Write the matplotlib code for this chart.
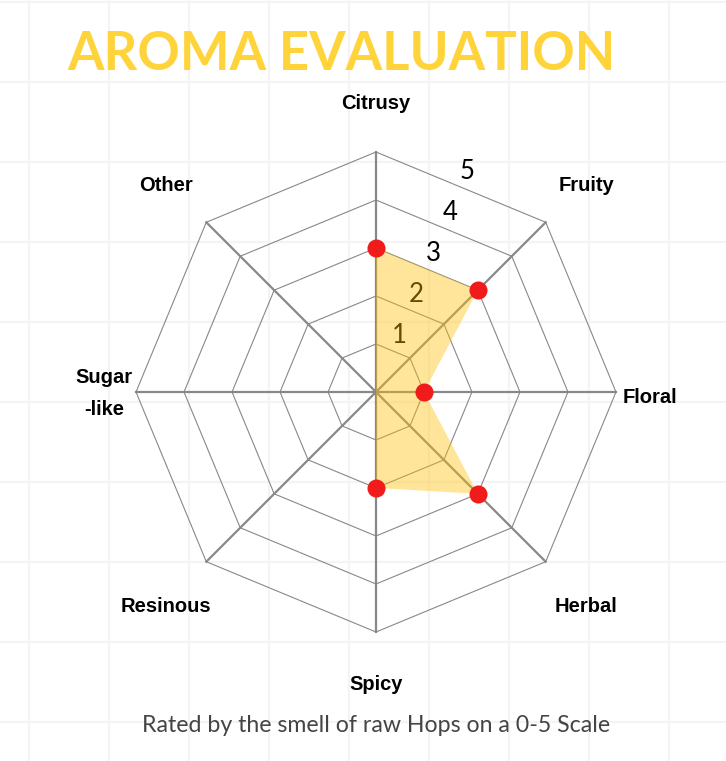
import numpy as np
import matplotlib.pyplot as plt

# Aroma ratings, clockwise from the top
categories = ['Citrusy', 'Fruity', 'Floral', 'Herbal', 'Spicy', 'Resinous', 'Sugar\n-like', 'Other']
values = [3, 3, 1, 3, 2, 0, 0, 0]
scale_ticks = [1, 2, 3, 4, 5]
max_val = 5

title_yellow = '#FFD43B'
fill_orange = '#FFC000'
dot_red = '#F01B1B'
line_gray = '#888888'

W, H = 726, 761
fig = plt.figure(figsize=(W / 100, H / 100), dpi=100)

# faint paper grid behind everything
bg = fig.add_axes([0, 0, 1, 1])
bg.set_xlim(0, W)
bg.set_ylim(H, 0)
bg.set_xticks(np.arange(29, W, 80))
bg.set_yticks(np.arange(2, H, 80))
bg.grid(True, color='#F4F4F4', lw=1.6)
bg.tick_params(length=0, labelbottom=False, labelleft=False)
for s in bg.spines.values():
    s.set_visible(False)

# radar axes: one data unit = 48 px, centre of the web at pixel (376, 392)
unit = 48.0
cx, cy = 376, 392
ax = fig.add_axes([0, 0, 1, 1])
ax.set_xlim(-cx / unit, (W - cx) / unit)
ax.set_ylim(-(H - cy) / unit, cy / unit)
ax.patch.set_alpha(0)
ax.axis('off')

n = len(categories)
angles = np.pi / 2 - np.arange(n) * 2 * np.pi / n
closed = np.append(angles, angles[0])

# rings
for r in scale_ticks:
    ax.plot(r * np.cos(closed), r * np.sin(closed), color=line_gray, lw=0.8, zorder=1)
# spokes
for a in angles:
    ax.plot([0, max_val * np.cos(a)], [0, max_val * np.sin(a)], color=line_gray, lw=1.6, zorder=1)

# scale numbers sit just outside the edge between Citrusy and Fruity
tick_ang = np.pi / 2 - np.pi / n
for t in scale_ticks:
    rr = t * np.cos(np.pi / n) + 0.36
    ax.text(rr * np.cos(tick_ang), rr * np.sin(tick_ang), str(t), fontsize=18.5,
            family='Lato', ha='center', va='center', color='black', zorder=2)

# data polygon and points
vals = np.array(values, dtype=float)
px = vals * np.cos(angles)
py = vals * np.sin(angles)
ax.fill(px, py, color=fill_orange, alpha=0.4, lw=0, zorder=3)
ax.plot(px[vals > 0], py[vals > 0], 'o', color=dot_red, ms=13, mec='none', zorder=4)

# category labels
lab_kw = dict(fontsize=14.5, fontweight='bold', family='Liberation Sans')
drop = 0.08
for a, lab in zip(angles, categories):
    c, s = np.cos(a), np.sin(a)
    if abs(s) < 1e-6:
        if c > 0:
            ax.text(5.13, -0.04 - drop, lab, ha='left', va='center', **lab_kw)
        else:
            ax.text(-5.67, 0.05 - drop, lab, ha='center', va='center', linespacing=1.9, **lab_kw)
    else:
        if abs(c) < 1e-6:
            r = 6.08 if s > 0 else 6.02
        else:
            r = 6.2
        ax.text(r * c, r * s - drop, lab, ha='center', va='center', **lab_kw)

fig.text(341 / W, 1 - 54 / H, 'AROMA EVALUATION', fontsize=37.9, fontweight='bold',
         family='Lato', color=title_yellow, ha='center', va='center')
fig.text(376 / W, 1 - 725 / H, 'Rated by the smell of raw Hops on a 0-5 Scale', fontsize=16.7,
         family='Lato', color='#444444', ha='center', va='center')

fig.savefig('out.png', dpi=100)
